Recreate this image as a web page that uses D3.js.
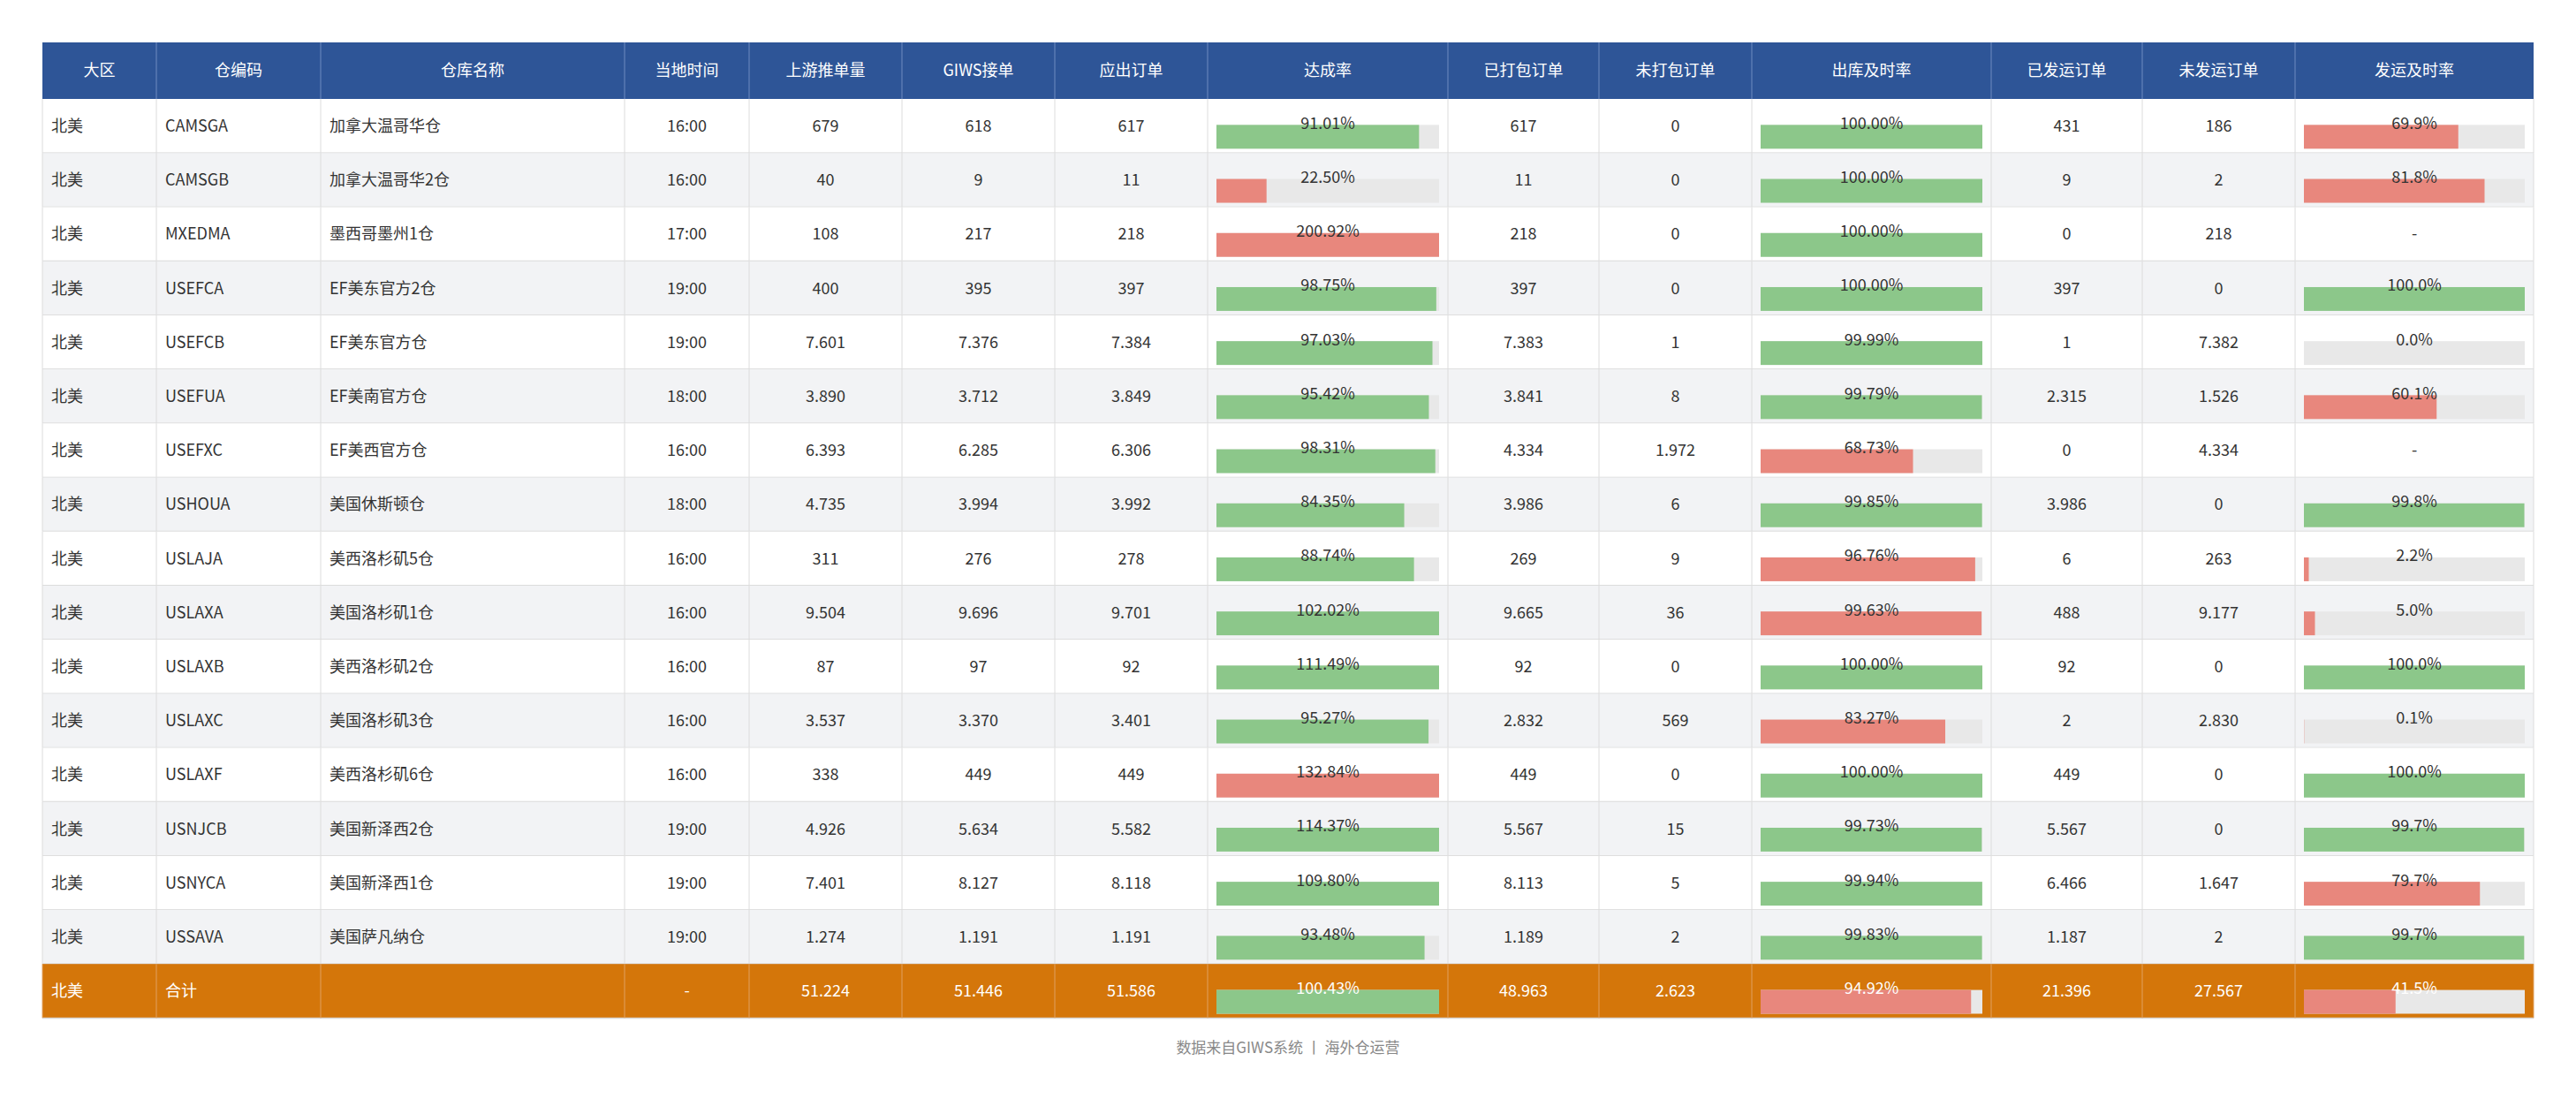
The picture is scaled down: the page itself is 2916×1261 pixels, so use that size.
<!DOCTYPE html>
<html><head><meta charset="utf-8">
<script src="https://cdn.jsdelivr.net/npm/d3@7"></script>
<style>body{margin:0;background:#fff}</style></head>
<body><svg id="c" width="2916" height="1261"></svg>
<script>
const headers=["大区","仓编码","仓库名称","当地时间","上游推单量","GIWS接单","应出订单","达成率","已打包订单","未打包订单","出库及时率","已发运订单","未发运订单","发运及时率"];
const region=["北美","北美","北美","北美","北美","北美","北美","北美","北美","北美","北美","北美","北美","北美","北美","北美"];
const codes=["CAMSGA","CAMSGB","MXEDMA","USEFCA","USEFCB","USEFUA","USEFXC","USHOUA","USLAJA","USLAXA","USLAXB","USLAXC","USLAXF","USNJCB","USNYCA","USSAVA"];
const names=["加拿大温哥华仓","加拿大温哥华2仓","墨西哥墨州1仓","EF美东官方2仓","EF美东官方仓","EF美南官方仓","EF美西官方仓","美国休斯顿仓","美西洛杉矶5仓","美国洛杉矶1仓","美西洛杉矶2仓","美国洛杉矶3仓","美西洛杉矶6仓","美国新泽西2仓","美国新泽西1仓","美国萨凡纳仓"];
const times=["16:00","16:00","17:00","19:00","19:00","18:00","16:00","18:00","16:00","16:00","16:00","16:00","16:00","19:00","19:00","19:00"];
const upstream=[679,40,108,400,7601,3890,6393,4735,311,9504,87,3537,338,4926,7401,1274];
const giws=[618,9,217,395,7376,3712,6285,3994,276,9696,97,3370,449,5634,8127,1191];
const due=[617,11,218,397,7384,3849,6306,3992,278,9701,92,3401,449,5582,8118,1191];
const achieve=[91.01,22.50,200.92,98.75,97.03,95.42,98.31,84.35,88.74,102.02,111.49,95.27,132.84,114.37,109.80,93.48];
const packed=[617,11,218,397,7383,3841,4334,3986,269,9665,92,2832,449,5567,8113,1189];
const unpacked=[0,0,0,0,1,8,1972,6,9,36,0,569,0,15,5,2];
const outRate=[100,100,100,100,99.99,99.79,68.73,99.85,96.76,99.63,100,83.27,100,99.73,99.94,99.83];
const shipped=[431,9,0,397,1,2315,0,3986,6,488,92,2,449,5567,6466,1187];
const unshipped=[186,2,218,0,7382,1526,4334,0,263,9177,0,2830,0,0,1647,2];
const shipRate=[69.9,81.8,null,100.0,0.0,60.1,null,99.8,2.2,5.0,100.0,0.1,100.0,99.7,79.7,99.7];
const total={region:"北美",code:"合计",name:"",time:"-",upstream:51224,giws:51446,due:51586,achieve:100.43,packed:48963,unpacked:2623,outRate:94.92,shipped:21396,unshipped:27567,shipRate:41.5};
const footer="数据来自GIWS系统 丨 海外仓运营";

const loc=d3.formatLocale({decimal:",",thousands:".",grouping:[3],currency:["",""]});
const fmt=loc.format(",d");
const rows=codes.map((c,i)=>({region:region[i],code:c,name:names[i],time:times[i],upstream:upstream[i],giws:giws[i],due:due[i],achieve:achieve[i],packed:packed[i],unpacked:unpacked[i],outRate:outRate[i],shipped:shipped[i],unshipped:unshipped[i],shipRate:shipRate[i]}));
rows.push(Object.assign({total:true},total));
const keys=["region","code","name","time","upstream","giws","due","achieve","packed","unpacked","outRate","shipped","unshipped","shipRate"];
const edges=[48,177,363,707,848,1021,1194,1367,1639,1810,1983,2254,2425,2598,2868];
const tableTop=48,headH=64,rowH=61.2;
const y=d3.scaleBand().domain(d3.range(rows.length)).range([tableTop+headH,tableTop+headH+rowH*rows.length]);
const svg=d3.select("#c");const font="'Noto Sans CJK SC',sans-serif";
svg.append("rect").attr("x",edges[0]).attr("y",tableTop).attr("width",edges[14]-edges[0]).attr("height",headH).attr("fill","#2e5597");
headers.forEach((h,j)=>svg.append("text").attr("x",(edges[j]+edges[j+1])/2).attr("y",tableTop+headH/2).attr("dy","0.35em").attr("text-anchor","middle").attr("fill","#fff").attr("font-size",18).attr("font-family",font).text(h));
for(let j=1;j<14;j++)svg.append("line").attr("x1",edges[j]).attr("x2",edges[j]).attr("y1",tableTop).attr("y2",tableTop+headH).attr("stroke","#6f8cc0");
const bar=d3.scaleLinear().domain([0,100]).clamp(true);
const green="#8cc78a",red="#e8877d";
rows.forEach((r,i)=>{
  const y0=y(i),t=r.total;
  svg.append("rect").attr("x",edges[0]).attr("y",y0).attr("width",edges[14]-edges[0]).attr("height",rowH).attr("fill",t?"#d4760a":(i%2?"#f2f3f5":"#fff"));
  const tc=t?"#fff":"#333";
  keys.forEach((k,j)=>{
    const x0=edges[j],x1=edges[j+1],v=r[k];
    if(k==="achieve"||k==="outRate"||k==="shipRate"){
      if(v===null){svg.append("text").attr("x",(x0+x1)/2).attr("y",y0+rowH/2).attr("dy","0.35em").attr("text-anchor","middle").attr("fill",tc).attr("font-size",18).attr("font-family",font).text("-");return;}
      bar.range([0,x1-x0-20]);
      const ok=k==="achieve"?(v>=80&&v<=120):v>=99.7;
      svg.append("rect").attr("x",x0+10).attr("y",y0+rowH*0.48).attr("width",x1-x0-20).attr("height",rowH*0.44).attr("fill","#e8e8e8");
      svg.append("rect").attr("x",x0+10).attr("y",y0+rowH*0.48).attr("width",bar(v)).attr("height",rowH*0.44).attr("fill",ok?green:red);
      svg.append("text").attr("x",(x0+x1)/2).attr("y",y0+rowH*0.45).attr("dy","0.35em").attr("text-anchor","middle").attr("fill",tc).attr("font-size",18).attr("font-family",font).text(v.toFixed(k==="shipRate"?1:2)+"%");
      return;}
    const txt=typeof v==="number"?fmt(v):v;
    const left=j<3;
    svg.append("text").attr("x",left?x0+10:(x0+x1)/2).attr("y",y0+rowH/2).attr("dy","0.35em").attr("text-anchor",left?"start":"middle").attr("fill",tc).attr("font-size",18).attr("font-family",font).text(txt);
  });
  svg.append("line").attr("x1",edges[0]).attr("x2",edges[14]).attr("y1",y0+rowH).attr("y2",y0+rowH).attr("stroke","#d6d6d6").attr("stroke-width",1.5);
  for(let j=0;j<15;j++)svg.append("line").attr("x1",edges[j]).attr("x2",edges[j]).attr("y1",y0).attr("y2",y0+rowH).attr("stroke",t?"#e0a060":"#dcdcdc");
});
svg.append("text").attr("x",(edges[0]+edges[14])/2).attr("y",1186).attr("dy","0.35em").attr("text-anchor","middle").attr("fill","#888").attr("font-size",17).attr("font-family",font).text(footer);
</script></body></html>
